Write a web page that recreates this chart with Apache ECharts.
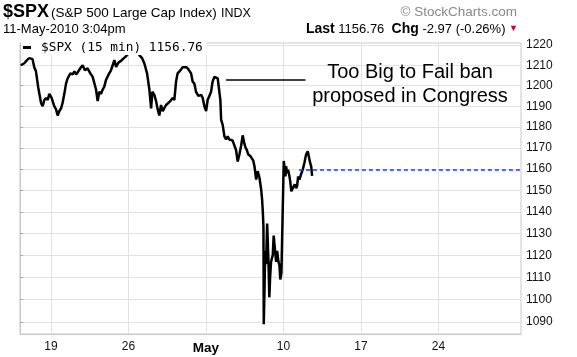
<!DOCTYPE html>
<html><head><meta charset="utf-8">
<script src="https://cdn.jsdelivr.net/npm/echarts@6/dist/echarts.min.js"></script>
<style>html,body{margin:0;padding:0;background:#fff}#c{width:577px;height:357px}</style>
</head><body><div id="c"></div>
<script>
// Trading-session position (0 = Apr 15 open, 1 trading day = 1 unit)
const sessionPos = [0.05,0.28,0.45,0.60,0.81,0.92,1.03,1.18,1.36,1.46,1.57,1.68,1.79,1.89,2.04,2.21,2.32,2.43,2.54,2.65,2.75,2.86,2.97,3.07,3.25,3.40,3.51,3.62,3.72,3.89,4.04,4.19,4.36,4.54,4.69,4.80,4.91,5.01,5.12,5.23,5.33,5.44,5.55,5.72,5.87,5.98,6.09,6.20,6.35,6.50,6.63,6.78,6.91,7.05,7.17,7.38,7.59,7.70,7.88,8.02,8.20,8.35,8.46,8.54,8.67,8.78,8.88,8.99,9.10,9.21,9.32,9.43,9.53,9.70,9.85,9.96,10.07,10.17,10.35,10.50,10.61,10.75,10.87,11.04,11.14,11.25,11.36,11.51,11.69,11.79,11.90,12.01,12.11,12.22,12.33,12.43,12.54,12.65,12.76,12.87,12.93,12.98,13.08,13.19,13.30,13.40,13.51,13.62,13.72,13.83,13.94,14.05,14.16,14.27,14.37,14.48,14.56,14.64,14.72,14.80,14.88,14.96,15.05,15.13,15.24,15.34,15.45,15.56,15.62,15.67,15.71,15.73,15.78,15.82,15.88,15.95,15.98,16.03,16.09,16.14,16.20,16.31,16.37,16.46,16.53,16.59,16.68,16.74,16.80,16.87,16.95,17.02,17.06,17.13,17.17,17.24,17.30,17.39,17.45,17.51,17.60,17.66,17.73,17.82,17.88,17.95,18.03,18.09,18.16,18.24,18.35,18.46,18.57,18.68,18.72,18.79,18.85];
const spxPrices = [1210,1211,1212.5,1213.5,1213,1209,1207,1199,1191.5,1190,1193,1194,1193,1196,1194,1190,1188.6,1185.5,1187.7,1189,1191.7,1196,1201,1203.5,1206,1205.5,1207,1205.5,1206.5,1208.5,1210,1207.5,1208.5,1206,1204.3,1205,1198,1192.5,1197,1196,1198,1199.5,1202.8,1205.5,1207.5,1210,1212.5,1209.2,1211.3,1212,1213,1214,1215,1217,1218,1219,1218,1215,1213.5,1211,1206,1198,1189,1197,1195.5,1192.5,1188.6,1185.5,1190.6,1187.6,1189.2,1190.6,1191.5,1192.5,1194,1193,1202,1206,1207.5,1209,1208.5,1209,1208,1206,1202,1201,1197,1195,1195.5,1194,1190,1187.7,1193,1195,1197,1202,1204.3,1205,1203.5,1202.8,1193,1183.4,1181,1175.5,1174,1175.5,1174,1174.7,1173.5,1174,1169,1163.5,1167,1171,1176,1172,1170,1169,1167,1166.5,1166,1165,1164,1161.3,1155,1159,1156,1150.5,1146,1140,1133,1089,1105,1122,1116,1134.5,1128,1118,1101,1110,1117,1120,1129,1122,1117,1122,1117,1115.5,1109,1112,1111.5,1163.8,1161.3,1156.5,1161.3,1158,1159.6,1156.5,1153.5,1149.5,1151,1150.5,1152.8,1151,1152,1156.5,1155,1154.2,1158,1159.6,1162.8,1166.8,1168.4,1169.2,1163,1161.3,1156.76];
const dateTickPos = [2,7,12,17,22,27];
const dateTickLabels = ['19','26','May','10','17','24'];
const priceTicks = [1090,1100,1110,1120,1130,1140,1150,1160,1170,1180,1190,1200,1210,1220];
const prevClose = 1159.73;
const lastPrice = 1156.76;
const prevCloseFrom = 18;
const noteLevel = 1203.1, noteFrom = 13.30, noteTo = 18.42;
const axisPosMax = 32.33;
const axisPriceMin = 1084.7, axisPriceMax = 1221;
const seriesName = '$SPX (15 min) ' + lastPrice.toFixed(2);

const F = 'Liberation Sans, Arial, sans-serif';
const chart = echarts.init(document.getElementById('c'), null, {renderer: 'canvas'});
chart.setOption({
  animation: false,
  backgroundColor: '#fff',
  grid: {left: 20, right: 56, top: 43, bottom: 23, show: true, borderColor: '#c8c8c8', borderWidth: 1, backgroundColor: 'transparent'},
  legend: {
    data: [seriesName], left: 21, top: 40, padding: [1, 4, 1, 2],
    backgroundColor: '#fff', icon: 'rect', itemWidth: 8, itemHeight: 3,
    textStyle: {fontFamily: 'DejaVu Sans Mono', fontSize: 12.8, color: '#000', padding: [0, 0, 0, 5]},
    itemStyle: {color: '#000'}, selectedMode: false
  },
  xAxis: {
    type: 'value', min: 0, max: axisPosMax,
    axisLine: {show: true, lineStyle: {color: '#c8c8c8'}},
    axisTick: {show: false, customValues: dateTickPos},
    axisLabel: {
      customValues: dateTickPos, margin: 7, fontFamily: F, fontSize: 12, color: '#111',
      formatter: v => { const i = dateTickPos.indexOf(v); const t = dateTickLabels[i]; return t === 'May' ? '{b|May}' : t; },
      rich: {b: {fontFamily: F, fontSize: 13.5, fontWeight: 'bold', color: '#000'}}
    },
    splitLine: {show: true, lineStyle: {color: '#e2e2e2', width: 1}}
  },
  yAxis: {
    type: 'log', position: 'right', min: axisPriceMin, max: axisPriceMax,
    axisLine: {show: true, lineStyle: {color: '#c8c8c8'}},
    axisTick: {show: true, length: 3, customValues: priceTicks, lineStyle: {color: '#aaa'}},
    axisLabel: {customValues: priceTicks, margin: 5, fontFamily: F, fontSize: 12, color: '#111',
      formatter: v => String(Math.round(v))},
    splitLine: {show: true, lineStyle: {color: '#e2e2e2', width: 1}}
  },
  series: [{
    name: seriesName, type: 'line', showSymbol: false, symbol: 'none',
    data: sessionPos.map((p, i) => [p, spxPrices[i]]),
    lineStyle: {color: '#000', width: 2.5}, itemStyle: {color: '#000'},
    markLine: {
      silent: true, symbol: ['none', 'none'], label: {show: false}, animation: false,
      lineStyle: {color: '#1a3cff', type: [4, 3], width: 1.5, opacity: 1},
      emphasis: {disabled: true},
      data: [[{coord: [prevCloseFrom, prevClose], lineStyle: {color: '#1a3cff'}}, {coord: [axisPosMax, prevClose], lineStyle: {color: '#1a3cff'}}]]
    }
  }, {
    name: 'note', type: 'line', data: [], symbol: 'none',
    markLine: {
      silent: true, symbol: ['none', 'none'], label: {show: false}, animation: false,
      lineStyle: {color: '#000', type: 'solid', width: 1.5, opacity: 1},
      data: [[{coord: [noteFrom, noteLevel]}, {coord: [noteTo, noteLevel]}]]
    }
  }],
  graphic: [
    {type: 'text', left: 3, top: 3, z: 100, style: {text: '$SPX', font: 'bold 18px ' + F, fill: '#000'}},
    {type: 'text', left: 51, top: 6, z: 100, style: {text: '(S&P 500 Large Cap Index)', font: '13.5px ' + F, fill: '#000'}},
    {type: 'text', left: 221, top: 7, z: 100, style: {text: 'INDX', font: '12.5px ' + F, fill: '#000'}},
    {type: 'text', right: 60, top: 5, z: 100, style: {text: '\u00a9 StockCharts.com', font: '13.5px ' + F, fill: '#8a8a8a'}},
    {type: 'text', left: 3, top: 23, z: 100, style: {text: '11-May-2010 3:04pm', font: '13px ' + F, fill: '#000'}},
    {type: 'text', right: 59, top: 22, z: 100, style: {
      text: '{b|Last} 1156.76  {b|Chg} -2.97 (-0.26%) {r|\u25BC}',
      font: '13px ' + F, fill: '#000',
      rich: {b: {font: 'bold 14px ' + F, fill: '#000'}, r: {font: '9px ' + F, fill: '#c0003a'}}
    }},
    {type: 'text', x: 410, y: 61, z: 100, style: {
      text: 'Too Big to Fail ban\nproposed in Congress', font: '20px ' + F, fill: '#000',
      align: 'center', lineHeight: 23.5
    }}
  ]
});
</script></body></html>
